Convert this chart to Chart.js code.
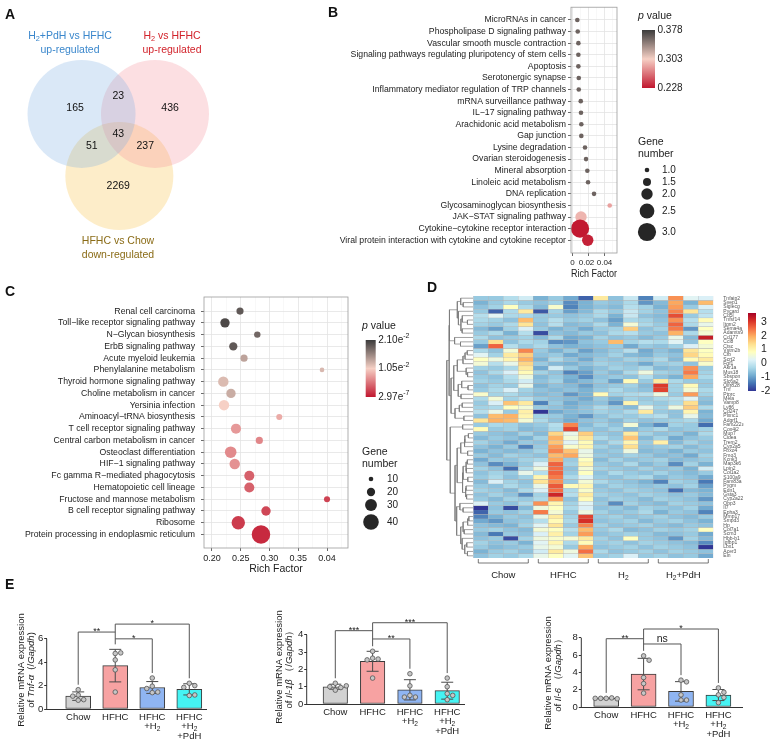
<!DOCTYPE html>
<html lang="en">
<head>
<meta charset="utf-8">
<title>Multi-panel figure</title>
<script src="https://cdn.jsdelivr.net/npm/chart.js@4.4.1/dist/chart.umd.min.js"></script>
<style>
  html, body { margin: 0; padding: 0; background: #fff; }
  #fig { position: relative; width: 772px; height: 743px; overflow: hidden;
         font-family: "Liberation Sans", Arial, Helvetica, sans-serif; color: #111; }
  #fig canvas { position: absolute; }
  .panel { position: absolute; font-size: 14px; font-weight: bold; line-height: 14px; }
  .vt { position: absolute; font-size: 10.5px; line-height: 14px; text-align: center;
        white-space: nowrap; transform: translateX(-50%); }
  .vt sub { font-size: 70%; line-height: 0; vertical-align: -0.3em; }
</style>
</head>
<body>
<div id="fig">
  <canvas id="venn"  width="245" height="245" style="left:0;top:20px"></canvas>
  <canvas id="kegg1" width="502" height="290" style="left:270px;top:0"></canvas>
  <canvas id="kegg2" width="430" height="290" style="left:0;top:285px"></canvas>
  <canvas id="heat"  width="342" height="305" style="left:430px;top:285px"></canvas>
  <canvas id="dendro" width="27" height="262" style="left:446px;top:296px"></canvas>
  <canvas id="tnf"   width="215" height="143" style="left:0;top:600px"></canvas>
  <canvas id="il1b"  width="215" height="143" style="left:260px;top:600px"></canvas>
  <canvas id="il6"   width="260" height="143" style="left:512px;top:600px"></canvas>

  <div class="vt" style="left:70px;top:28px;color:#3a87cc">H<sub>2</sub>+PdH vs HFHC<br>up-regulated</div>
  <div class="vt" style="left:172px;top:28px;color:#d2232b">H<sub>2</sub> vs HFHC<br>up-regulated</div>
  <div class="vt" style="left:118px;top:233px;color:#8a6b16">HFHC vs Chow<br>down-regulated</div>

  <div class="panel" style="left:5px;top:7px">A</div>
  <div class="panel" style="left:328px;top:5px">B</div>
  <div class="panel" style="left:5px;top:284px">C</div>
  <div class="panel" style="left:427px;top:280px">D</div>
  <div class="panel" style="left:5px;top:577px">E</div>
</div>

<script>
/* ============================================================
   Data
   ============================================================ */

// A – Venn (circle centres / count positions in radius units)
const VENN_CX = [-0.68, 0.68, 0.02];
const VENN_CY = [0.39, 0.39, -0.76];
const VENN_R  = 1;
const VENN_COUNTS  = [165, 23, 436, 43, 51, 237, 2269];
const VENN_COUNT_X = [-0.80, 0.00, 0.96, 0.00, -0.49, 0.50, 0.00];
const VENN_COUNT_Y = [0.50, 0.72, 0.50, 0.02, -0.20, -0.20, -0.94];

// B – KEGG enrichment (first comparison)
const B_TERMS = [
  'MicroRNAs in cancer', 'Phospholipase D signaling pathway', 'Vascular smooth muscle contraction',
  'Signaling pathways regulating pluripotency of stem cells', 'Apoptosis', 'Serotonergic synapse',
  'Inflammatory mediator regulation of TRP channels', 'mRNA surveillance pathway', 'IL\u221217 signaling pathway',
  'Arachidonic acid metabolism', 'Gap junction', 'Lysine degradation', 'Ovarian steroidogenesis',
  'Mineral absorption', 'Linoleic acid metabolism', 'DNA replication', 'Glycosaminoglycan biosynthesis',
  'JAK\u2212STAT signaling pathway', 'Cytokine\u2212cytokine receptor interaction',
  'Viral protein interaction with cytokine and cytokine receptor'
];
const B_RICH  = [0.0060, 0.0065, 0.0073, 0.0073, 0.0073, 0.0078, 0.0078, 0.0103, 0.0106, 0.0110,
                 0.0110, 0.0156, 0.0169, 0.0185, 0.0194, 0.0269, 0.0465, 0.0106, 0.0094, 0.0190];
const B_GENES = [1, 1, 1, 1, 1, 1, 1, 1, 1, 1, 1, 1, 1, 1, 1, 1, 1, 2, 3, 2];
const B_PVAL  = [0.358, 0.358, 0.358, 0.358, 0.358, 0.358, 0.358, 0.358, 0.358, 0.358,
                 0.358, 0.358, 0.358, 0.358, 0.358, 0.358, 0.284, 0.292, 0.229, 0.232];
const B_XTICKS = [0, 0.01, 0.02, 0.03, 0.04, 0.05];
const B_SIZE_KEY = [1.0, 1.5, 2.0, 2.5, 3.0];

// C – KEGG enrichment (second comparison)
const C_TERMS = [
  'Renal cell carcinoma', 'Toll\u2212like receptor signaling pathway', 'N\u2212Glycan biosynthesis',
  'ErbB signaling pathway', 'Acute myeloid leukemia', 'Phenylalanine metabolism',
  'Thyroid hormone signaling pathway', 'Choline metabolism in cancer', 'Yersinia infection',
  'Aminoacyl\u2212tRNA biosynthesis', 'T cell receptor signaling pathway', 'Central carbon metabolism in cancer',
  'Osteoclast differentiation', 'HIF\u22121 signaling pathway', 'Fc gamma R\u2212mediated phagocytosis',
  'Hematopoietic cell lineage', 'Fructose and mannose metabolism', 'B cell receptor signaling pathway',
  'Ribosome', 'Protein processing in endoplasmic reticulum'
];
const C_RICH  = [0.2487, 0.2226, 0.2788, 0.2370, 0.2557, 0.3913, 0.2197, 0.2330, 0.2209, 0.3170,
                 0.2417, 0.2823, 0.2325, 0.2395, 0.2649, 0.2649, 0.4000, 0.2939, 0.2457, 0.2852];
const C_GENES = [17, 23, 15, 20, 17, 10, 26, 23, 26, 14, 25, 17, 29, 26, 25, 25, 14, 23, 34, 48];
const C_PVAL  = [0.0189, 0.0200, 0.0179, 0.0189, 0.0137, 0.0122, 0.0120, 0.0130, 0.0105, 0.0084,
                 0.0074, 0.0063, 0.0065, 0.0069, 0.0042, 0.0042, 0.0025, 0.0027, 0.0021, 0.0011];
const C_XTICKS = [0.2, 0.225, 0.25, 0.275, 0.3, 0.325, 0.35, 0.375, 0.4, 0.425];
const C_SIZE_KEY = [10, 20, 30, 40];

// D – heatmap (row z-scores)
const SAMPLES = ['Chow1', 'Chow2', 'Chow3', 'Chow4', 'HFHC1', 'HFHC2', 'HFHC3', 'HFHC4',
                 'H2-1', 'H2-2', 'H2-3', 'H2-4', 'PdH1', 'PdH2', 'PdH3', 'PdH4'];
const HEAT_GROUP_NAMES = ['Chow', 'HFHC', 'H_{2}', 'H_{2}+PdH'];
const HEAT_GROUP_SIZE  = [4, 4, 4, 4];
const GENES = ['Tnfaip2','Svep1','Siglecg','Pycard','Cd5l','Tnfsf14','Itgm2','Sema4a','Adamts9','Cd177',
  'Ccl8','Ctsc','Vstm2b','Cfb','Scrt2','Fgf1','Akr1a','Mus18','Sbspon','Slc6a2',
  'Olfr828','Tnf','Ptprc','Mela','Vamp8','Ly86','Cd247','Plxnc1','Adgrf1','Fam222a',
  'Cox4i2','Mup7','Cidea','Trem2','Cyp2a5','Fbxo4','Fmo3','Kcnk3','Map3k6','Lpin2',
  'Col1a2','S100a9','Fam83a','Pygm','Edn1','Gsta3','Cyp2a22','Obp3','Il7','Epha3',
  'Mmp17','Smpd3','Hp','Col7a1','Scrn3','Hbb-b1','Igfbp1','Lbx1','Acer3','Eln'];
const HEAT = [
  [-0.5,-0.5,-0.2,0.1,-0.8,-0.5,-0.9,-1.6,1.2,-0.6,0.0,-1.3,0.1,2.2,0.3,0.2],
  [-0.8,-0.5,-0.3,-0.5,-0.6,-0.4,-1.2,-0.8,-0.5,-0.6,-0.3,-1.1,-0.7,2.0,-0.8,1.8],
  [-0.6,-0.4,0.8,-0.3,-0.7,0.7,-1.3,-0.8,-0.6,-0.7,-0.2,-0.4,-0.8,2.1,-0.5,0.2],
  [-0.5,-1.6,-0.3,1.2,-1.7,-0.4,-1.0,-0.7,-0.3,-0.5,0.0,-0.4,-0.6,2.3,1.3,-0.2],
  [-0.2,0.3,-0.3,-0.3,-0.5,-0.5,-0.6,-0.5,-0.3,-0.8,0.0,-0.6,-0.7,2.8,-0.5,-0.1],
  [-0.3,-0.4,-0.6,1.8,-0.5,-0.2,-0.5,-0.4,-0.6,-1.0,-0.3,-0.4,-0.6,2.2,-0.2,0.9],
  [-0.4,-0.5,-0.3,1.3,-0.6,-0.2,-0.7,-0.6,-0.3,-0.8,0.6,-0.3,-0.5,2.6,-0.3,0.4],
  [-0.7,-1.0,-0.4,0.2,-0.5,-0.8,-0.6,-0.9,-0.5,-0.4,1.6,-0.6,-0.4,2.4,-1.1,0.8],
  [-0.5,-0.3,-0.8,-0.2,-1.8,-0.6,-0.7,-0.5,-0.6,-0.3,-0.2,-0.5,-0.6,1.9,-0.3,0.6],
  [-0.3,-0.6,-0.5,-0.4,-0.7,-0.3,-0.9,-0.8,-0.4,-0.6,-0.5,-0.7,-0.5,0.4,-0.7,3.3],
  [-0.5,1.4,-0.6,-0.3,-0.4,-1.2,-1.1,-0.6,-0.5,1.8,-0.4,-0.2,-0.3,0.3,-0.6,0.8],
  [-1.0,2.6,-0.2,-0.5,-0.3,-0.6,-0.8,-0.7,-0.6,-0.5,-0.9,-0.5,-0.6,-0.4,0.2,0.6],
  [-0.3,-0.6,0.6,2.3,-0.5,-0.8,-0.5,-1.0,-0.7,-0.5,-0.2,-0.9,-0.6,-0.8,1.3,0.8],
  [0.3,-0.4,1.2,1.6,-0.6,-0.5,-0.9,-0.7,-0.6,-0.4,-0.7,-0.8,-0.5,-0.6,1.5,0.9],
  [0.8,0.5,1.0,1.9,-0.8,-0.3,-0.6,-0.9,-0.5,-0.6,-0.4,-0.5,-0.3,-0.7,0.9,1.2],
  [0.6,-0.2,0.4,1.5,-0.5,-0.7,-0.8,-0.6,-0.4,-0.5,-0.6,-0.9,-0.5,-0.4,-0.6,0.7],
  [-0.4,-0.5,-0.3,1.2,-0.9,0.1,-0.5,-0.8,-0.6,-0.4,-0.5,-0.3,-0.7,-0.6,2.2,-0.5],
  [-0.6,-0.3,0.2,0.9,-0.4,-0.6,-1.3,-1.0,-0.5,-0.7,-0.3,0.5,-0.4,-0.5,2.4,-0.4],
  [-0.5,-0.6,-0.2,0.5,-0.7,-0.5,-0.8,-1.2,-0.6,-0.5,-0.6,-0.2,-0.6,-0.8,2.0,-0.3],
  [-0.4,-0.5,-0.3,0.1,-0.6,-0.4,-0.9,-0.7,-0.5,-1.0,0.9,-0.5,1.2,-0.3,-0.5,-0.5],
  [-0.6,-0.4,-0.5,0.4,-0.8,-0.6,-0.7,-1.0,-0.6,-0.5,-0.4,-0.7,3.0,-0.4,0.9,-0.5],
  [-0.5,-0.3,0.2,-0.4,-0.6,-0.7,-0.6,-0.8,-0.5,-0.3,-0.5,-0.6,2.9,-0.4,0.6,-0.3],
  [0.7,-0.4,-0.3,-0.5,-0.7,-0.6,-1.1,-0.8,0.9,-0.4,-0.3,-0.2,0.5,-0.5,2.1,-0.4],
  [-0.3,0.6,-0.4,-0.2,-0.5,-0.6,-0.7,-0.9,-0.5,-0.8,-0.4,-0.5,-0.3,-0.2,0.3,-0.6],
  [-0.5,0.2,1.7,1.2,-1.3,-0.5,-0.9,-0.7,-0.6,-1.1,1.0,-0.4,-0.5,-0.3,1.4,-0.7],
  [-0.4,-0.3,0.8,0.6,-0.5,-0.6,-0.8,-0.6,-0.3,-0.5,-0.7,0.4,-0.4,0.5,1.6,-0.3],
  [-0.2,0.4,-0.5,1.1,-2.3,-0.9,-0.7,-0.6,-0.4,-0.5,-0.3,1.2,-0.5,-0.6,1.0,-0.8],
  [-0.6,1.8,1.9,1.0,-0.4,-0.5,-0.8,-1.1,-0.6,-0.4,-0.5,-0.3,-0.2,-0.6,0.4,-0.7],
  [1.3,1.9,1.8,0.6,-0.3,-0.6,-0.9,-0.6,-0.5,-0.7,-0.4,-0.6,-0.5,-0.4,-0.3,-0.9],
  [-0.5,-0.3,-0.4,-0.6,-0.5,-0.2,2.3,-0.7,-0.4,-0.6,0.6,-0.8,-1.2,-0.4,-0.5,-1.5],
  [0.9,-0.5,-0.4,-0.7,-0.6,-0.3,2.9,-0.5,-0.6,-0.4,-0.7,-0.5,-0.3,-0.6,-0.5,-0.4],
  [-0.5,-0.6,-0.7,-0.4,-0.7,1.5,0.4,1.6,-0.5,-0.6,1.2,-0.4,-0.6,-0.5,-0.8,-0.3],
  [-0.7,-0.5,-0.6,-0.8,-0.4,1.9,0.6,1.3,-0.3,-0.5,1.7,-0.7,-0.4,-0.9,-0.6,-0.5],
  [-0.4,-0.6,-0.9,-0.5,-0.6,1.7,0.3,0.9,-0.6,-0.3,1.0,-0.5,1.1,-0.7,-0.4,-0.6],
  [-0.6,-0.8,-0.5,-1.3,-0.5,2.1,0.7,1.0,-0.4,-0.6,1.4,-0.6,-0.5,-0.4,-0.7,-0.5],
  [-0.8,-0.6,-0.7,-0.6,-0.4,2.3,1.7,0.4,-0.6,-0.5,0.5,-0.7,-0.6,-0.8,-0.5,-0.6],
  [-0.5,-0.7,-0.4,-0.5,-0.6,1.8,2.0,0.5,-0.5,-0.6,-0.4,-0.5,-0.7,-0.6,-0.9,-0.4],
  [-0.9,-0.5,-0.6,-0.4,-0.3,2.0,-0.5,0.8,-0.7,-0.4,-0.6,-0.5,-0.4,-0.7,-0.6,-0.5],
  [-0.6,-1.2,-0.8,-0.5,0.2,2.6,-0.4,1.0,-0.5,-0.6,-0.3,-0.7,-0.5,-1.2,-0.4,-0.8],
  [-0.4,-0.6,-1.5,-0.3,0.5,2.5,-0.6,0.6,-0.4,-0.5,-0.6,-0.4,-0.6,-0.5,-0.8,0.1],
  [-0.6,-0.4,-0.5,0.4,-0.2,2.6,-0.5,0.8,-0.6,-0.3,-0.5,-0.6,-0.4,-0.6,-0.7,-0.5],
  [-0.5,-0.3,-0.6,-0.4,1.0,2.4,-0.3,0.3,-0.5,-0.6,-0.4,-0.3,-0.7,-0.5,-0.6,-0.9],
  [-0.7,0.2,-0.4,-0.6,1.3,2.2,-0.5,0.6,-0.3,-0.5,-0.6,-0.8,-1.3,-0.4,-0.5,-1.4],
  [-0.5,-0.6,-0.3,-0.5,0.4,2.7,0.9,1.0,-0.6,-0.4,-0.5,-0.6,-0.5,-0.6,-0.4,-1.0],
  [-0.4,-0.5,-0.7,-0.3,0.2,2.5,-0.3,0.7,-0.5,-0.6,-0.4,-0.5,-0.6,-1.5,-0.7,-0.8],
  [-0.6,-0.4,-0.6,-1.2,-0.4,3.2,-0.2,1.2,-0.4,-0.5,-0.6,-0.4,-0.5,-0.6,-0.5,-0.7],
  [-0.5,-0.7,-0.4,-0.5,-0.3,2.1,-0.6,0.9,-0.6,-0.4,-0.5,-0.7,-0.4,-0.5,-0.6,-1.1],
  [0.2,-0.5,-0.6,-0.3,2.2,1.0,-0.4,0.3,-0.5,-1.2,-0.4,-0.6,-0.7,-0.4,-0.5,-0.6],
  [-2.0,-0.6,-1.8,-0.7,0.5,0.8,-0.3,0.2,-0.6,-0.5,-0.7,-0.4,-0.5,-0.6,-0.4,-0.9],
  [-1.6,-0.5,-0.6,-0.4,2.4,0.6,-0.5,0.5,-0.4,-0.6,-0.5,-0.3,-0.8,-0.5,-0.6,-1.3],
  [-1.3,-0.8,-0.5,-0.6,0.4,1.2,-0.4,2.9,-0.5,-0.4,-0.6,-0.5,-0.4,-0.6,-0.7,-0.5],
  [-0.9,-1.1,-0.6,-0.5,-0.2,0.9,-0.3,3.1,-0.6,-0.5,-0.4,-0.7,-0.5,-0.4,-0.6,-0.8],
  [-0.6,-0.7,-0.8,-0.4,0.3,1.3,-0.5,2.3,-0.4,-0.6,-0.5,-0.4,-0.6,-0.7,-0.5,-0.6],
  [-0.5,-0.4,-0.6,-0.7,0.6,0.8,-0.2,1.8,-0.5,-0.3,-0.7,-0.6,-0.4,-0.5,-0.4,0.8],
  [-0.7,-1.4,-0.5,-0.6,0.2,1.1,-0.4,2.1,-0.6,-0.5,-0.4,-0.5,-0.7,-0.6,-0.5,-0.9],
  [-0.6,-0.5,-1.8,-0.4,0.5,0.7,0.6,1.2,-0.4,-0.6,0.8,-0.5,-0.6,-1.1,-0.4,-0.7],
  [-0.4,-0.6,-0.5,-0.8,0.3,1.0,-0.3,0.9,-0.5,-0.4,-0.6,-0.4,-0.5,-0.6,-0.7,-1.2],
  [-0.5,-0.7,-0.6,-0.5,0.4,0.6,-0.5,2.0,-0.6,-0.5,-0.4,-0.6,-0.4,-0.5,-0.6,-2.0],
  [-0.8,-0.5,-0.4,-0.6,0.1,1.2,0.5,2.5,-0.3,-0.6,-0.5,-0.4,-0.6,-0.4,-0.5,-0.6],
  [-0.6,-0.4,-0.5,-0.3,0.4,0.8,0.3,1.7,-0.5,-0.4,0.2,-0.5,-0.4,-0.6,-0.5,-0.9]
];
const HEAT_MIN = -2.0, HEAT_MAX = 3.64;
const HEAT_KEY_TICKS = [3, 2, 1, 0, -1, -2];

// E – qPCR, five mice per group
const E_LABELS = [['Chow'], ['HFHC'], ['HFHC', '+H_{2}'], ['HFHC', '+H_{2}', '+PdH']];
const TNF_A = [[0.75, 0.8, 1.1, 1.2, 1.65], [4.75, 4.8, 4.2, 3.35, 1.45],
               [2.65, 1.4, 1.45, 1.75, 1.95], [2.2, 2.0, 1.85, 1.15, 1.2]];
const IL_1B = [[0.8, 0.95, 1.0, 1.05, 1.2], [3.05, 2.65, 2.6, 2.55, 1.5],
               [1.75, 1.05, 0.5, 0.4, 0.4], [1.5, 1.0, 0.6, 0.25, 0.5]];
const IL_6  = [[1.0, 1.05, 1.0, 0.95, 1.0], [5.9, 5.4, 3.4, 2.7, 1.6],
               [3.1, 2.9, 1.4, 0.8, 0.8], [2.2, 1.7, 1.4, 1.1, 0.5]];

/* ============================================================
   Styling + helpers
   ============================================================ */
const FONT = '"Liberation Sans", Arial, Helvetica, sans-serif';
Chart.defaults.font.family = FONT;
Chart.defaults.color = '#222';
Chart.defaults.animation = false;
Chart.defaults.events = [];
Chart.defaults.plugins.legend.display = false;
Chart.defaults.plugins.tooltip.enabled = false;

const P_LOW = '#c1172f', P_MID = '#f6d0c5', P_HIGH = '#3b3b3b';
const HEAT_PALETTE = ['#313695', '#4575b4', '#74add1', '#abd9e9', '#e0f3f8', '#ffffbf',
                      '#fee090', '#fdae61', '#f46d43', '#d73027', '#a50026'];
const VENN_FILLS = ['rgba(120,170,225,0.27)', 'rgba(245,140,150,0.28)', 'rgba(250,200,90,0.33)'];
const E_FILLS = ['#d2d2d2', '#f7a2a2', '#8fb5f2', '#45f3f3'];

const hex = h => [1, 3, 5].map(i => parseInt(h.slice(i, i + 2), 16));
function mix(a, b, t) {
  const A = hex(a), B = hex(b);
  return 'rgb(' + A.map((v, i) => Math.round(v + (B[i] - v) * t)).join(',') + ')';
}
function pColor(p, range) {
  const t = Math.min(1, Math.max(0, (p - range[0]) / (range[1] - range[0])));
  return t < 0.5 ? mix(P_LOW, P_MID, t * 2) : mix(P_MID, P_HIGH, (t - 0.5) * 2);
}
function heatColor(v) {
  const n = HEAT_PALETTE.length - 1;
  const t = Math.min(1, Math.max(0, (v - HEAT_MIN) / (HEAT_MAX - HEAT_MIN))) * n;
  const i = Math.min(n - 1, Math.floor(t));
  return mix(HEAT_PALETTE[i], HEAT_PALETTE[i + 1], t - i);
}
const mean = a => a.reduce((s, v) => s + v, 0) / a.length;
const sd = a => { const m = mean(a); return Math.sqrt(a.reduce((s, v) => s + (v - m) ** 2, 0) / (a.length - 1)); };

// tiny markup: *italic*, _{sub}, ^{sup}
function parseRich(str) {
  const out = []; let it = false, buf = '', i = 0;
  const push = (t, o) => { if (t) out.push(Object.assign({ t, it }, o || {})); };
  while (i < str.length) {
    const c = str[i];
    if (c === '*') { push(buf); buf = ''; it = !it; i++; }
    else if ((c === '_' || c === '^') && str[i + 1] === '{') {
      push(buf); buf = '';
      const j = str.indexOf('}', i);
      push(str.slice(i + 2, j), c === '_' ? { sub: true } : { sup: true });
      i = j + 1;
    } else { buf += c; i++; }
  }
  push(buf);
  return out;
}
function drawRich(ctx, str, x, y, size, align, color) {
  const parts = parseRich(str);
  let w = 0;
  parts.forEach(p => {
    p.fs = (p.sub || p.sup) ? size * 0.7 : size;
    ctx.font = (p.it ? 'italic ' : '') + p.fs + 'px ' + FONT;
    p.w = ctx.measureText(p.t).width; w += p.w;
  });
  let cx = align === 'center' ? x - w / 2 : align === 'right' ? x - w : x;
  ctx.fillStyle = color || '#222'; ctx.textAlign = 'left'; ctx.textBaseline = 'middle';
  parts.forEach(p => {
    ctx.font = (p.it ? 'italic ' : '') + p.fs + 'px ' + FONT;
    const dy = p.sub ? size * 0.3 : p.sup ? -size * 0.35 : 0;
    ctx.fillText(p.t, cx, y + dy); cx += p.w;
  });
}

/* ============================================================
   A – Venn diagram
   ============================================================ */
const VENN_X_RANGE = [-2.19, 2.347], VENN_Y_RANGE = [-2.407, 2.13];
const vennUnitPx = 245 / (VENN_X_RANGE[1] - VENN_X_RANGE[0]);   // canvas px per radius unit

const vennLabels = {
  id: 'vennLabels',
  afterDatasetsDraw(chart) {
    const { ctx, scales: { x, y } } = chart;
    ctx.save();
    ctx.font = '10.5px ' + FONT; ctx.fillStyle = '#111';
    ctx.textAlign = 'center'; ctx.textBaseline = 'middle';
    VENN_COUNTS.forEach((n, i) =>
      ctx.fillText(String(n), x.getPixelForValue(VENN_COUNT_X[i]), y.getPixelForValue(VENN_COUNT_Y[i])));
    ctx.restore();
  }
};
new Chart(document.getElementById('venn'), {
  type: 'bubble',
  data: {
    datasets: VENN_CX.map((cx, i) => ({
      data: [{ x: cx, y: VENN_CY[i], r: VENN_R * vennUnitPx }],
      backgroundColor: VENN_FILLS[i], borderWidth: 0, clip: false,
    })),
  },
  options: {
    responsive: false,
    layout: { autoPadding: false, padding: 0 },
    scales: {
      x: { display: false, min: VENN_X_RANGE[0], max: VENN_X_RANGE[1] },
      y: { display: false, min: VENN_Y_RANGE[0], max: VENN_Y_RANGE[1] },
    },
  },
  plugins: [vennLabels],
});

/* ============================================================
   B / C – bubble plots
   ============================================================ */
const panelBorder = {
  id: 'panelBorder',
  afterDatasetsDraw(chart) {
    const { ctx, chartArea: a } = chart;
    ctx.save(); ctx.strokeStyle = '#9c9c9c'; ctx.lineWidth = 0.8;
    ctx.strokeRect(a.left, a.top, a.width, a.height);
    ctx.restore();
  }
};
function keggLegend(L) {
  return {
    id: 'keggLegend',
    afterDraw(chart) {
      const ctx = chart.ctx, x = chart.chartArea.right + L.dx;
      ctx.save();
      drawRich(ctx, '*p* value', x, L.titleY, 10.5, 'left');
      const g = ctx.createLinearGradient(0, L.barTop, 0, L.barBottom);
      g.addColorStop(0, P_HIGH); g.addColorStop(0.5, P_MID); g.addColorStop(1, P_LOW);
      ctx.fillStyle = g;
      ctx.fillRect(x + L.barDx, L.barTop, L.barW, L.barBottom - L.barTop);
      const step = (L.barBottom - L.barTop) / (L.barLabels.length - 1);
      L.barLabels.forEach((s, i) => drawRich(ctx, s, x + L.barDx + L.barW + 2.5, L.barTop + i * step, 10, 'left'));
      drawRich(ctx, 'Gene', x, L.sizeTitleY, 10.5, 'left');
      drawRich(ctx, 'number', x, L.sizeTitleY + 12, 10.5, 'left');
      L.sizes.forEach((v, i) => {
        ctx.beginPath(); ctx.fillStyle = '#262626';
        ctx.arc(x + L.dotDx, L.sizeY[i], L.radius(v), 0, Math.PI * 2); ctx.fill();
        drawRich(ctx, L.sizeLabels[i], x + L.labelDx, L.sizeY[i], 10, 'left');
      });
      ctx.restore();
    }
  };
}
function keggChart(id, o) {
  return new Chart(document.getElementById(id), {
    type: 'bubble',
    data: {
      datasets: [{
        data: o.rich.map((x, i) => ({ x, y: i, r: o.radius(o.genes[i]) })),
        backgroundColor: o.pvals.map(p => pColor(p, o.pRange)),
        borderWidth: 0, clip: false,
      }],
    },
    options: {
      responsive: false,
      layout: { autoPadding: false, padding: o.padding },
      scales: {
        x: {
          type: 'linear', min: o.xMin, max: o.xMax,
          afterBuildTicks: s => { s.ticks = o.xTicks.map(v => ({ value: v })); },
          afterFit: s => { s.height = 27; },
          ticks: { autoSkip: false, maxRotation: 0, padding: 2, font: { size: o.xFont }, color: '#222',
                   callback: v => o.isMajor(v) ? o.xLabel(v) : '' },
          grid: {
            color: c => o.isMajor(c.tick.value) ? '#e3e3e3' : '#f1f1f1',
            lineWidth: c => o.isMajor(c.tick.value) ? 0.8 : 0.5,
            tickLength: 3,
            tickColor: c => o.isMajor(c.tick.value) ? '#444' : 'rgba(0,0,0,0)',
          },
          border: { display: false },
          title: { display: true, text: 'Rich Factor', font: { size: 10.5 }, color: '#222', padding: 0 },
        },
        y: {
          type: 'linear', reverse: true, min: o.yMin, max: o.yMax,
          afterBuildTicks: s => { s.ticks = o.terms.map((t, i) => ({ value: i })); },
          afterFit: s => { s.width = o.yWidth; },
          ticks: { autoSkip: false, padding: o.yPad, font: { size: 8.7 }, color: '#222',
                   callback: v => o.terms[Math.round(v)] },
          grid: { color: '#e3e3e3', lineWidth: 0.8, tickLength: 3, tickColor: '#444' },
          border: { display: false },
        },
      },
    },
    plugins: [panelBorder, keggLegend(o.legend)],
  });
}

const radiusB = g => 2.3 + (g - 1) * 3.4;
const radiusC = n => 2.3 + (n - 10) * 0.183;

keggChart('kegg1', {
  terms: B_TERMS, rich: B_RICH, genes: B_GENES, pvals: B_PVAL, pRange: [0.228, 0.378],
  radius: radiusB, xMin: -0.0019, xMax: 0.0556, xTicks: B_XTICKS, xFont: 8,
  isMajor: v => Math.abs(v / 0.02 - Math.round(v / 0.02)) < 1e-6,
  // the middle label sits a touch left in the original, hence the padding spaces
  xLabel: v => v === 0 ? '0' : Math.abs(v - 0.02) < 1e-9 ? '0.02\u2002' : v.toFixed(2),
  yMin: -1.1, yMax: 20.1, yWidth: 301, yPad: 2,
  padding: { left: 0, top: 3, right: 155, bottom: 10 },
  legend: {
    dx: 21, titleY: 16, barDx: 4, barW: 13, barTop: 30, barBottom: 88,
    barLabels: ['0.378', '0.303', '0.228'],
    sizeTitleY: 142, sizes: B_SIZE_KEY, sizeLabels: B_SIZE_KEY.map(v => v.toFixed(1)),
    sizeY: [170, 182, 194, 211, 232], dotDx: 9, labelDx: 24, radius: radiusB,
  },
});

keggChart('kegg2', {
  terms: C_TERMS, rich: C_RICH, genes: C_GENES, pvals: C_PVAL, pRange: [2.97e-7, 0.021],
  radius: radiusC, xMin: 0.1861, xMax: 0.4365, xTicks: C_XTICKS, xFont: 9,
  isMajor: v => Math.abs(v / 0.05 - Math.round(v / 0.05)) < 1e-6,
  xLabel: v => Math.abs(v - 0.4) < 1e-6 ? '0.04' : v.toFixed(2),
  yMin: -1.2, yMax: 20.15, yWidth: 204, yPad: 6,
  padding: { left: 0, top: 12, right: 82, bottom: 0 },
  legend: {
    dx: 14, titleY: 41, barDx: 3.7, barW: 10, barTop: 55, barBottom: 112,
    barLabels: ['2.10e^{-2}', '1.05e^{-2}', '2.97e^{-7}'],
    sizeTitleY: 167, sizes: C_SIZE_KEY, sizeLabels: C_SIZE_KEY.map(String),
    sizeY: [194, 207, 220, 237], dotDx: 9, labelDx: 25, radius: radiusC,
  },
});

/* ============================================================
   D – heatmap + row dendrogram
   ============================================================ */
const heatDecor = {
  id: 'heatDecor',
  afterDraw(chart) {
    const { ctx, chartArea: a, scales: { x } } = chart;
    const colW = a.width / SAMPLES.length;
    ctx.save();
    // group brackets
    ctx.strokeStyle = '#555'; ctx.lineWidth = 0.8;
    let start = 0;
    HEAT_GROUP_NAMES.forEach((name, gi) => {
      const end = start + HEAT_GROUP_SIZE[gi] - 1;
      const x0 = x.getPixelForValue(start) - colW / 2 + 5;
      const x1 = x.getPixelForValue(end) + colW / 2 - 5;
      const yb = a.bottom + 5;
      ctx.beginPath();
      ctx.moveTo(x0, a.bottom + 1); ctx.lineTo(x0, yb); ctx.lineTo(x1, yb); ctx.lineTo(x1, a.bottom + 1);
      ctx.stroke();
      drawRich(ctx, name, (x0 + x1) / 2, a.bottom + 17, 9.5, 'center', '#222');
      start = end + 1;
    });
    // colour key
    const kx = a.right + 34.7, top = 28, bottom = 106, w = 8;
    const g = ctx.createLinearGradient(0, bottom, 0, top);
    HEAT_PALETTE.forEach((c, i) => g.addColorStop(i / (HEAT_PALETTE.length - 1), c));
    ctx.fillStyle = g; ctx.fillRect(kx, top, w, bottom - top);
    HEAT_KEY_TICKS.forEach(v => {
      const y = bottom - (v - HEAT_MIN) / (HEAT_MAX - HEAT_MIN) * (bottom - top);
      drawRich(ctx, String(v), kx + w + 5, y, 10.5, 'left', '#222');
    });
    ctx.restore();
  }
};
new Chart(document.getElementById('heat'), {
  type: 'bar',
  data: {
    labels: SAMPLES,
    datasets: HEAT.map((row, r) => ({
      data: row.map(() => [r, r + 1]),
      backgroundColor: row.map(heatColor),
      borderColor: '#b4b4b4', borderWidth: 0.4, borderSkipped: false,
      barPercentage: 1, categoryPercentage: 1, grouped: false,
    })),
  },
  options: {
    responsive: false,
    layout: { autoPadding: false, padding: { left: 43.3, top: 11, right: 28.7, bottom: 32 } },
    scales: {
      x: { display: false },
      y: {
        position: 'right', reverse: true, min: 0, max: HEAT.length,
        afterBuildTicks: s => { s.ticks = GENES.map((g, i) => ({ value: i + 0.5 })); },
        afterFit: s => { s.width = 30; },
        ticks: { autoSkip: false, padding: 2, font: { size: 5 }, color: '#555',
                 callback: v => GENES[Math.floor(v)] },
        grid: { display: false }, border: { display: false },
      },
    },
  },
  plugins: [heatDecor],
});

// order-preserving complete-linkage clustering of the heatmap rows
function buildDendrogram(rows) {
  const n = rows.length;
  const D = rows.map(a => rows.map(b => Math.sqrt(a.reduce((s, v, k) => s + (v - b[k]) ** 2, 0))));
  let clusters = rows.map((v, i) => ({ members: [i], y: i + 0.5, h: 0 }));
  const segs = [];
  const link = (A, B) => { let m = 0; A.members.forEach(i => B.members.forEach(j => { m = Math.max(m, D[i][j]); })); return m; };
  while (clusters.length > 1) {
    let best = 0, bd = Infinity;
    for (let k = 0; k < clusters.length - 1; k++) {
      const d = link(clusters[k], clusters[k + 1]);
      if (d < bd) { bd = d; best = k; }
    }
    const A = clusters[best], B = clusters[best + 1];
    const h = Math.max(bd, A.h, B.h);
    segs.push({ x: A.h, y: A.y }, { x: h, y: A.y }, { x: h, y: B.y }, { x: B.h, y: B.y }, { x: NaN, y: NaN });
    clusters.splice(best, 2, { members: A.members.concat(B.members), y: (A.y + B.y) / 2, h });
  }
  return { segs, top: clusters[0].h, n };
}
const tree = buildDendrogram(HEAT);
new Chart(document.getElementById('dendro'), {
  type: 'scatter',
  data: {
    datasets: [{ data: tree.segs, showLine: true, spanGaps: false, tension: 0,
                 borderColor: '#7a7a7a', borderWidth: 0.7, pointRadius: 0 }],
  },
  options: {
    responsive: false,
    layout: { autoPadding: false, padding: 0 },
    scales: {
      x: { display: false, reverse: true, min: 0, max: tree.top * 1.03 },
      y: { display: false, reverse: true, min: 0, max: tree.n },
    },
  },
});

/* ============================================================
   E – qPCR bar charts (mean ± SD with individual points)
   ============================================================ */
const SWARM_STEP = 5.5, SWARM_GAP = 5;
function swarm(chart, groups) {
  const xs = chart.scales.x, ys = chart.scales.y;
  const unit = xs.getPixelForValue(1) - xs.getPixelForValue(0);
  const pts = [];
  groups.forEach((vals, g) => {
    const placed = [];
    vals.forEach(v => {
      const py = ys.getPixelForValue(v);
      let off = 0;
      for (let k = 0; k < 12; k++) {
        off = (k % 2 ? 1 : -1) * Math.ceil(k / 2) * SWARM_STEP;
        if (placed.every(p => Math.hypot(p.x - off, p.y - py) >= SWARM_GAP)) break;
      }
      placed.push({ x: off, y: py });
      pts.push({ x: g + off / unit, y: v });
    });
  });
  chart.data.datasets[1].data = pts;
  chart.update('none');
}

function qpcrDecor(o, means, sds) {
  return {
    id: 'qpcrDecor',
    afterDatasetDraw(chart, args) {
      if (args.index !== 0) return;
      const { ctx, scales: { x, y } } = chart;
      ctx.save(); ctx.strokeStyle = '#4a4a4a'; ctx.lineWidth = 1;
      means.forEach((m, g) => {
        const px = x.getPixelForValue(g);
        const hi = y.getPixelForValue(m + sds[g]), lo = y.getPixelForValue(Math.max(0, m - sds[g]));
        ctx.beginPath();
        ctx.moveTo(px, lo); ctx.lineTo(px, hi);
        ctx.moveTo(px - 6, hi); ctx.lineTo(px + 6, hi);
        ctx.moveTo(px - 6, lo); ctx.lineTo(px + 6, lo);
        ctx.stroke();
      });
      ctx.restore();
    },
    afterDraw(chart) {
      const { ctx, chartArea: a, scales: { x, y } } = chart;
      ctx.save();
      // y axis line up to the last tick
      ctx.strokeStyle = '#333'; ctx.lineWidth = 1;
      ctx.beginPath();
      ctx.moveTo(a.left, y.getPixelForValue(0) + 0.5); ctx.lineTo(a.left, y.getPixelForValue(o.axisTop));
      ctx.stroke();
      // group labels
      E_LABELS.forEach((lines, g) => lines.forEach((s, k) =>
        drawRich(ctx, s, x.getPixelForValue(g), a.bottom + 8.5 + k * 9.3, 9.5, 'center', '#222')));
      // y title
      o.title.forEach((line, k) => {
        ctx.save();
        ctx.translate(a.left + o.titleDx[k], a.bottom + o.titleDy);
        ctx.rotate(-Math.PI / 2);
        drawRich(ctx, line, 0, 0, 9.5, 'center', '#222');
        ctx.restore();
      });
      // significance brackets
      ctx.strokeStyle = '#555'; ctx.lineWidth = 1;
      const top = {};
      o.comps.forEach(c => [c[0], c[1]].forEach(g => { top[g] = Math.max(top[g] ?? -Infinity, c[2]); }));
      ctx.beginPath();
      Object.keys(top).forEach(g => {
        const reach = Math.max(Math.max(...o.values[g]), means[g] + sds[g]);
        const px = x.getPixelForValue(+g);
        ctx.moveTo(px, y.getPixelForValue(top[g])); ctx.lineTo(px, y.getPixelForValue(reach) - 5);
      });
      o.comps.forEach(c => {
        const py = y.getPixelForValue(c[2]);
        ctx.moveTo(x.getPixelForValue(c[0]), py); ctx.lineTo(x.getPixelForValue(c[1]), py);
      });
      ctx.stroke();
      ctx.fillStyle = '#222'; ctx.textAlign = 'center'; ctx.textBaseline = 'alphabetic';
      o.comps.forEach(c => {
        const py = y.getPixelForValue(c[2]);
        const mid = (x.getPixelForValue(c[0]) + x.getPixelForValue(c[1])) / 2;
        if (c[3] === 'ns') { ctx.font = '10.5px ' + FONT; ctx.fillText('ns', mid, py - 2); }
        else { ctx.font = '9px ' + FONT; ctx.fillText(c[3], mid, py + 2); }
      });
      ctx.restore();
    }
  };
}

function qpcrChart(id, o) {
  const means = o.values.map(mean), sds = o.values.map(sd);
  const chart = new Chart(document.getElementById(id), {
    type: 'bar',
    data: {
      datasets: [
        { type: 'bar', order: 2, data: means.map((v, g) => ({ x: g, y: v })),
          backgroundColor: E_FILLS, borderColor: '#3a3a3a', borderWidth: 1, borderSkipped: false,
          barThickness: o.barW },
        { type: 'scatter', order: 1, data: [], pointRadius: 2.3,
          pointBackgroundColor: '#c6c6c6', pointBorderColor: '#555', pointBorderWidth: 0.8 },
      ],
    },
    options: {
      responsive: false,
      layout: { autoPadding: false, padding: o.padding },
      scales: {
        x: { type: 'linear', offset: false, min: o.xMin, max: o.xMax, afterFit: s => { s.height = 0; },
             ticks: { display: false }, grid: { display: false, offset: false },
             border: { display: true, color: '#333', width: 1 } },
        y: { min: 0, max: o.yMax,
             afterBuildTicks: s => { s.ticks = o.yTicks.map(v => ({ value: v })); },
             afterFit: s => { s.width = o.yWidth; },
             ticks: { font: { size: 9.5 }, color: '#222', padding: 1 },
             grid: { drawOnChartArea: false, tickLength: 2.5, tickColor: '#333', lineWidth: 1 },
             border: { display: false } },
      },
    },
    plugins: [qpcrDecor(o, means, sds)],
  });
  swarm(chart, o.values);
  return chart;
}

qpcrChart('tnf', {
  values: TNF_A, yMax: 7.5, axisTop: 6, yTicks: [0, 2, 4, 6], yWidth: 46.7,
  xMin: -0.851, xMax: 3.47, barW: 25,
  padding: { left: 0, top: 21.3, right: 8.3, bottom: 34 },
  title: ['Relative mRNA expression', 'of *Tnf-\u03b1*  (/*Gapdh*)'], titleDx: [-25.5, -15], titleDy: -39,
  comps: [[0, 1, 6.58, '**'], [1, 2, 6.0, '*'], [1, 3, 7.26, '*']],
});
qpcrChart('il1b', {
  values: IL_1B, yMax: 4.8, axisTop: 4, yTicks: [0, 1, 2, 3, 4], yWidth: 46.7,
  xMin: -0.767, xMax: 3.45, barW: 24.5,
  padding: { left: 0, top: 21, right: 11, bottom: 39 },
  title: ['Relative mRNA expression', 'of *Il-1\u03b2* \uff08/*Gapdh*\uff09'], titleDx: [-27.5, -17.5], titleDy: -37,
  comps: [[0, 1, 4.24, '***'], [1, 2, 3.76, '**'], [1, 3, 4.7, '***']],
});
qpcrChart('il6', {
  values: IL_6, yMax: 9.6, axisTop: 8, yTicks: [0, 2, 4, 6, 8], yWidth: 69.3,
  xMin: -0.666, xMax: 3.631, barW: 25,
  padding: { left: 0, top: 23.8, right: 30, bottom: 36 },
  title: ['Relative mRNA expression', 'of *Il-6* \uff08/*Gapdh*\uff09'], titleDx: [-33, -23], titleDy: -34,
  comps: [[0, 1, 7.88, '**'], [1, 2, 7.27, 'ns'], [1, 3, 9.0, '*']],
});
</script>
</body>
</html>
